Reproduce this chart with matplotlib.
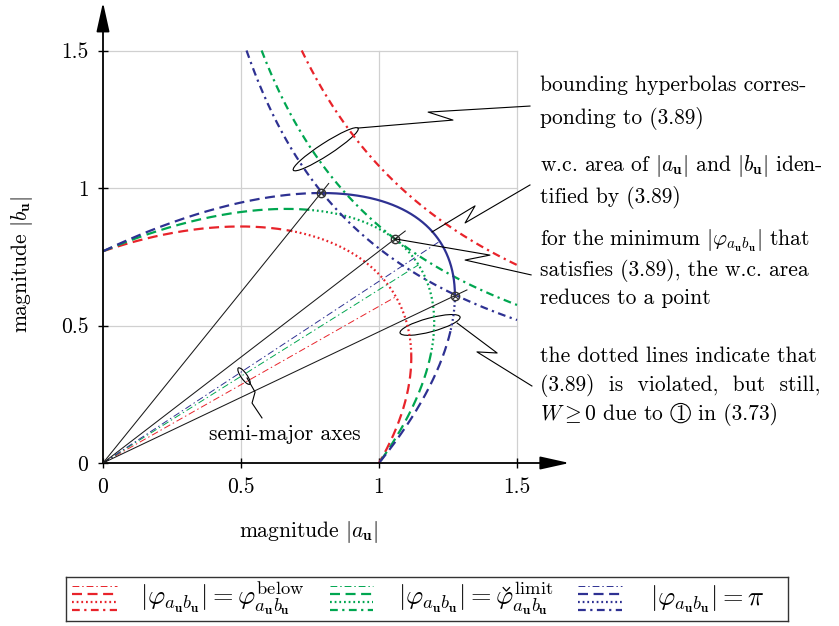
import numpy as np
import matplotlib
matplotlib.use('Agg')
import matplotlib.pyplot as plt
from matplotlib.patches import Ellipse, Circle

plt.rcParams['mathtext.fontset'] = 'cm'
plt.rcParams['font.family'] = ['cmr10', 'DejaVu Serif']
plt.rcParams['axes.unicode_minus'] = False
plt.rcParams['lines.dash_capstyle'] = 'butt'

RED, GREEN, BLUE = '#e8232a', '#00a650', '#2e3192'

# one curve family per phase difference |phi_ab|
series = ['below', 'limit', 'pi']
colors = [RED, GREEN, BLUE]
a_max = [1.117, 1.200, 1.275]      # largest |a_u| reached by each ellipse
b_max = [0.860, 0.924, 0.982]      # largest |b_u| reached by each ellipse
a_cross = 1.0                      # every ellipse meets |b_u| = 0 here
b_cross = 0.77                     # every ellipse meets |a_u| = 0 here
hyp_c = [1.08, 0.862, 0.78]        # bounding hyperbolas |a_u| |b_u| = c
dot_end_b = [0.40, 0.40, 0.48]     # |b_u| where the lower dotted run stops

# worst-case points (intersections / tangency with the hyperbolas)
wc_a = [0.790, 1.058, 1.274]
wc_b = [0.982, 0.815, 0.608]

ticks = [0, 0.5, 1, 1.5]
tick_labels = ['0', '0.5', '1', '1.5']

FS = 15.5
FSL = 19
W, H = 839, 626
fig = plt.figure(figsize=(W / 100, H / 100), dpi=100)
renderer = fig.canvas.get_renderer()

X0, Y0, SX, SY = 103, 463, 276, 275     # origin and scale of the plot area
XMAX, YMAX = 1.72, 1.68
ax = fig.add_axes([X0 / W, (H - Y0) / H, XMAX * SX / W, YMAX * SY / H])
ax.set_xlim(0, XMAX)
ax.set_ylim(0, YMAX)
for s in ax.spines.values():
    s.set_visible(False)

# grid, limited to the 0..1.5 square
for g in ticks[1:]:
    ax.plot([g, g], [0, 1.5], color='#d0d0d0', lw=0.9, zorder=0)
    ax.plot([0, 1.5], [g, g], color='#d0d0d0', lw=0.9, zorder=0)

ax.set_xticks(ticks)
ax.set_xticklabels(tick_labels)
ax.set_yticks(ticks)
ax.set_yticklabels(tick_labels)
ax.tick_params(direction='inout', length=7, width=1.0, labelsize=FS, pad=7)

# axes with arrow heads
arrow = dict(arrowstyle='-|>,head_length=0.9,head_width=0.2', lw=1.3, color='k',
             mutation_scale=20, shrinkA=0, shrinkB=0)
ax.annotate('', xy=(1.69, 0), xytext=(0, 0), arrowprops=arrow, annotation_clip=False)
ax.annotate('', xy=(0, 1.675), xytext=(0, 0), arrowprops=arrow, annotation_clip=False)

ax.text(0.746, -0.252, r'magnitude $|a_\mathbf{u}|$', fontsize=FS, ha='center', va='center')
ax.text(-0.293, 0.72, r'magnitude $|b_\mathbf{u}|$', fontsize=FS, ha='center', va='center',
        rotation=90)

LW = 1.6
DASH = (0, (4.5, 2.5))
DOT = (0, (0.8, 1.3))
DASHDOT = (0, (3.5, 2.0, 1.0, 2.0))
THIN_DD = (0, (7, 3, 1.5, 3))


def ellipse_arc(A, n=3000):
    phi = np.arcsin(a_cross / A)
    t = np.linspace(np.pi / 2, phi - np.pi / 2, n)
    B = b_cross / np.sin(phi)
    return A * np.cos(t), B * np.cos(t - phi)


ang_up = np.arctan2(wc_b[0], wc_a[0])
ang_lo = np.arctan2(wc_b[2], wc_a[2])

for i, (col, A) in enumerate(zip(colors, a_max)):
    x, y = ellipse_arc(A)
    ang = np.arctan2(y, x)
    i_up = int(np.argmax(ang <= ang_up))
    i_end = i_up + int(np.argmax(y[i_up:] < dot_end_b[i]))
    ax.plot(x[:i_up + 1], y[:i_up + 1], color=col, lw=LW, ls=DASH)
    if series[i] == 'pi':
        i_lo = int(np.argmax(ang <= ang_lo))
        ax.plot(x[i_up:i_lo + 1], y[i_up:i_lo + 1], color=col, lw=LW, ls='-')
        ax.plot(x[i_lo:i_end + 1], y[i_lo:i_end + 1], color=col, lw=LW, ls=DOT)
    else:
        ax.plot(x[i_up:i_end + 1], y[i_up:i_end + 1], color=col, lw=LW, ls=DOT)
    ax.plot(x[i_end:], y[i_end:], color=col, lw=LW, ls=DASH)

    # semi-major axis of the ellipse
    k = int(np.argmax(x ** 2 + y ** 2))
    ax.plot([0, x[k]], [0, y[k]], color=col, lw=0.7, ls=THIN_DD)

    # bounding hyperbola
    c = hyp_c[i]
    ha = np.linspace(c / 1.5, 1.5, 400)
    ax.plot(ha, c / ha, color=col, lw=LW, ls=DASHDOT)

# rays from the origin through the worst-case points
for a, b in zip(wc_a, wc_b):
    ax.plot([0, 1.035 * a], [0, 1.035 * b], color='#1a1a1a', lw=0.75, zorder=4)
ax.plot(wc_a, wc_b, 'o', ms=6, mfc='none', mec='#333333', mew=1.0, zorder=5)
ax.plot(wc_a, wc_b, 'x', ms=4.5, color='#333333', mew=0.8, zorder=5)

# callouts
ann = dict(color='k', lw=0.8, clip_on=False, zorder=6)
ax.add_patch(Ellipse((0.807, 1.141), 0.28, 0.045, angle=33, fill=False, ec='k', lw=0.8))
ax.add_patch(Ellipse((1.185, 0.502), 0.225, 0.05, angle=15, fill=False, ec='k', lw=0.8))
ax.add_patch(Ellipse((0.511, 0.316), 0.072, 0.022, angle=125, fill=False, ec='k', lw=0.8))
ax.plot([1.547, 1.178, 1.268, 0.924], [1.298, 1.276, 1.247, 1.218], **ann)
ax.plot([1.547, 1.312, 1.348, 1.192], [1.011, 0.873, 0.935, 0.840], **ann)
ax.plot([1.058, 1.402, 1.312, 1.551], [0.815, 0.756, 0.738, 0.684], **ann)
ax.plot([1.283, 1.428, 1.355, 1.554], [0.509, 0.400, 0.404, 0.280], **ann)
ax.plot([0.522, 0.551, 0.540, 0.576], [0.309, 0.258, 0.218, 0.164], **ann)

TX = (540 - X0) / SX
notes = [
    (91, 'bounding hyperbolas corres-'),
    (124, 'ponding to (3.89)'),
    (171, r'w.c. area of $|a_\mathbf{u}|$ and $|b_\mathbf{u}|$ iden-'),
    (203, 'tified by (3.89)'),
    (246, r'for the minimum $|\varphi_{a_\mathbf{u}b_\mathbf{u}}|$ that'),
    (276, 'satisfies (3.89), the w.c. area'),
    (304, 'reduces to a point'),
    (362, 'the dotted lines indicate that'),
    (391, '(3.89)  is  violated,  but  still,'),
]
for py, s in notes:
    ax.text(TX, (Y0 - py) / SY, s, fontsize=FS, ha='left', va='baseline')
ax.text((285 - X0) / SX, (Y0 - 440) / SY, 'semi-major axes', fontsize=FS,
        ha='center', va='baseline')

# last note line with the circled reference mark
to_data = ax.transData.inverted()
base_y = (Y0 - 420) / SY
t1 = ax.text(TX, base_y, r'$W \geq 0$ due to', fontsize=FS, ha='left', va='baseline')
x_end = to_data.transform((t1.get_window_extent(renderer).x1, 0))[0]
em = FS * 100 / 72 / SX
cx = x_end + 0.33 * em + 0.46 * em
ax.text(cx, base_y, '1', fontsize=FS, ha='center', va='baseline')
ax.add_patch(Circle((cx, base_y + 0.32 * em * SX / SY), 0.45 * em, fill=False,
                    ec='k', lw=0.8, clip_on=False))
ax.text(cx + 0.46 * em + 0.33 * em, base_y, 'in (3.73)', fontsize=FS, ha='left',
        va='baseline')

# legend
lg = fig.add_axes([66 / W, (H - 621) / H, 722 / W, 44 / H])
lg.set_xlim(66, 788)
lg.set_ylim(621, 577)
lg.set_xticks([])
lg.set_yticks([])
for s in lg.spines.values():
    s.set_linewidth(1.0)
    s.set_color('#333333')
handles_x = [(72, 117), (330, 373), (578, 622)]
labels_x = [140, 398, 650]
sub = r'_{a_\mathbf{u}b_\mathbf{u}}'
lhs = r'|\varphi' + sub + r'| ='
labels = [
    '$' + lhs + r' \varphi^{\mathrm{below}}' + sub + '$',
    '$' + lhs + r' \varphi^{\mathrm{limit}}' + sub + '$',
    '$' + lhs + r' \pi$',
]
LBASE = 605
for col, (hx0, hx1), tx, lab in zip(colors, handles_x, labels_x, labels):
    lg.plot([hx0, hx1], [586, 586], color=col, lw=0.7, ls=THIN_DD)
    lg.plot([hx0, hx1], [594, 594], color=col, lw=LW, ls=DASH)
    lg.plot([hx0, hx1], [602, 602], color=col, lw=LW, ls=DOT)
    lg.plot([hx0, hx1], [610, 610], color=col, lw=LW, ls=DASHDOT)
    lg.text(tx, LBASE, lab, fontsize=FSL, ha='left', va='baseline')

# check accent over the phi of the "limit" entry
tmp1 = lg.text(labels_x[1], LBASE, '$' + lhs + r' \varphi$', fontsize=FSL, va='baseline')
tmp2 = lg.text(labels_x[1], LBASE, r'$\varphi$', fontsize=FSL, va='baseline')
w1 = tmp1.get_window_extent(renderer).width
w2 = tmp2.get_window_extent(renderer).width
tmp1.remove()
tmp2.remove()
cxp = labels_x[1] + w1 - w2 / 2 + 1.5
emp = FSL * 100 / 72
ytop = LBASE - 0.47 * emp
lg.plot([cxp - 3.2, cxp, cxp + 3.2], [ytop - 5, ytop - 1.5, ytop - 5], color='k', lw=0.9,
        solid_joinstyle='miter')

fig.savefig('out.png', dpi=100)
